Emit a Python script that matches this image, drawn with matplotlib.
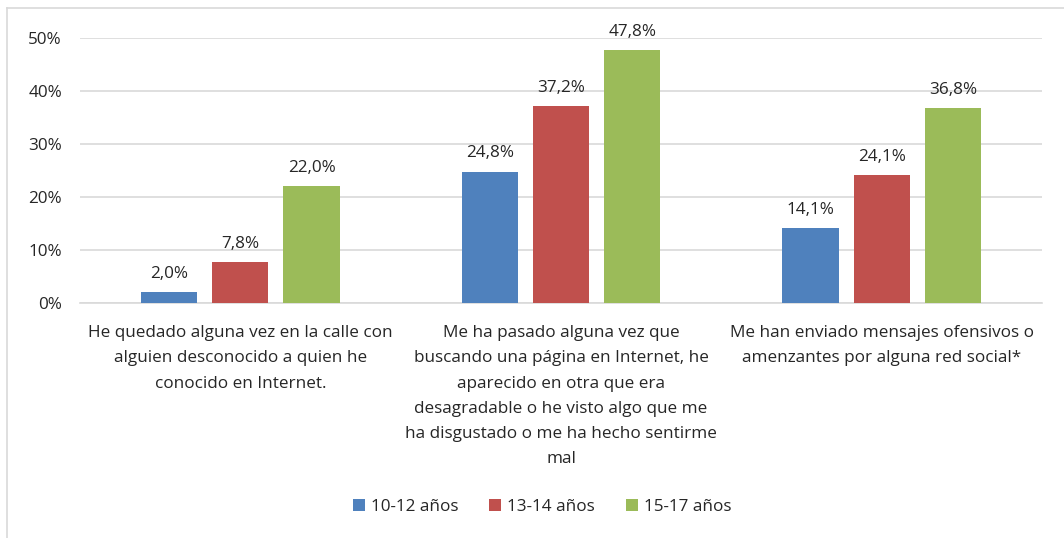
import numpy as np
import matplotlib.pyplot as plt
from matplotlib.lines import Line2D

plt.rcParams['font.family'] = ['Open Sans', 'DejaVu Sans']

categorias = [
    "He quedado alguna vez en la calle con\nalguien desconocido a quien he\nconocido en Internet.",
    "Me ha pasado alguna vez que\nbuscando una página en Internet, he\naparecido en otra que era\ndesagradable o he visto algo que me\nha disgustado o me ha hecho sentirme\nmal",
    "Me han enviado mensajes ofensivos o\namenzantes por alguna red social*",
]
series = ["10-12 años", "13-14 años", "15-17 años"]
v_10_12 = [2.0, 24.8, 14.1]
v_13_14 = [7.8, 37.2, 24.1]
v_15_17 = [22.0, 47.8, 36.8]
colores = ["#4F81BD", "#C0504D", "#9BBB59"]

FS = 12.3
W, H = 1064, 538
fig = plt.figure(figsize=(W / 100, H / 100), dpi=100)
ax = fig.add_axes([80 / W, 1 - 303 / H, (1042 - 80) / W, (303 - 38) / H])

x = np.arange(len(categorias))
ancho = 0.175
paso = 0.222
for i, (vals, nombre, col) in enumerate(zip([v_10_12, v_13_14, v_15_17], series, colores)):
    pos = x + (i - 1) * paso
    ax.bar(pos, vals, width=ancho, color=col, label=nombre, zorder=3)
    for xb, v in zip(pos, vals):
        ax.text(xb, v + 1.9, f"{v:.1f}%".replace(".", ","), ha="center", va="bottom",
                fontsize=FS, color="#262626")

ax.set_xlim(-0.5, 2.5)
ax.set_ylim(0, 50)
ax.set_yticks(range(0, 51, 10))
ax.set_yticklabels([f"{t}%" for t in range(0, 51, 10)], fontsize=FS, color="#262626")
ax.yaxis.grid(True, color="#D9D9D9", linewidth=1.2, zorder=0)
ax.tick_params(axis="y", length=0, pad=13)
ax.tick_params(axis="x", length=0, pad=16)
ax.set_xticks(x)
ax.set_xticklabels(categorias, fontsize=FS, color="#262626", linespacing=1.77)
for s in ["top", "right", "left"]:
    ax.spines[s].set_visible(False)
ax.spines["bottom"].set_color("#D9D9D9")
ax.spines["bottom"].set_linewidth(1.2)

leg = fig.legend(*ax.get_legend_handles_labels(), loc="center",
                 bbox_to_anchor=(542 / W, 1 - 507 / H), ncol=3, frameon=False,
                 fontsize=FS, handlelength=0.7, handleheight=0.7, columnspacing=1.8,
                 handletextpad=0.35)
for t in leg.get_texts():
    t.set_color("#262626")

# marco del gráfico
fig.add_artist(Line2D([7 / W, 1], [1 - 8 / H, 1 - 8 / H], color="#D9D9D9", linewidth=1.2))
fig.add_artist(Line2D([7 / W, 7 / W], [0, 1 - 8 / H], color="#D9D9D9", linewidth=1.2))

fig.savefig("out.png", dpi=100)
